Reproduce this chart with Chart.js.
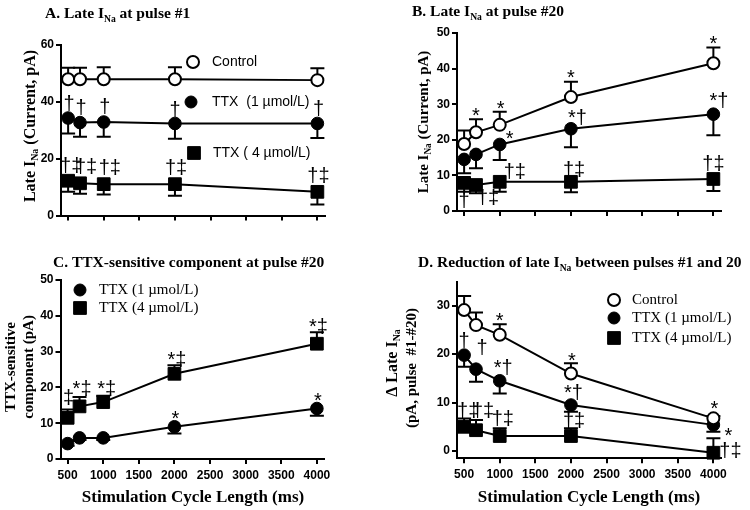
<!DOCTYPE html>
<html>
<head>
<meta charset="utf-8">
<script src="https://cdn.jsdelivr.net/npm/chart.js"></script>
<style>
  html, body { margin: 0; padding: 0; background: #fff; }
  #wrap { position: relative; width: 750px; height: 510px; overflow: hidden; }
  canvas { position: absolute; }
</style>
</head>
<body>
<div id="wrap">
  <canvas id="cA" width="375" height="250" style="left:0;top:0"></canvas>
  <canvas id="cB" width="375" height="250" style="left:375px;top:0"></canvas>
  <canvas id="cC" width="375" height="260" style="left:0;top:250px"></canvas>
  <canvas id="cD" width="375" height="260" style="left:375px;top:250px"></canvas>
</div>
<script>
// stimulation cycle lengths (ms)
var cycleLengths = [500, 667, 1000, 2000, 4000];
var xTicks = [500, 1000, 1500, 2000, 2500, 3000, 3500, 4000];

// A. late INa at pulse #1 (pA), mean and SEM
var aControl = [47.8, 47.8, 47.8, 47.8, 47.5];
var aControlErr = [4, 4, 4.2, 4.2, 4.2];
var aTtx1 = [34.2, 32.6, 32.8, 32.3, 32.3];
var aTtx1Err = [5.4, 5, 5.2, 5.4, 5.1];
var aTtx4 = [12.2, 11.3, 11, 11, 8.3];
var aTtx4Err = [3.9, 3.7, 3.6, 4.1, 4.4];
var aYTicks = [0, 20, 40, 60];

// B. late INa at pulse #20
var bControl = [18.8, 22.1, 24.2, 32.0, 41.5];
var bControlErr = [3.8, 3.7, 3.7, 4.3, 4.4];
var bTtx1 = [14.5, 15.9, 18.7, 23.1, 27.2];
var bTtx1Err = [3.9, 3.9, 4.4, 5.2, 5.9];
var bTtx4 = [7.9, 7.3, 8.2, 8.2, 9.0];
var bTtx4Err = [2.5, 2.3, 2.8, 2.9, 3.4];
var bYTicks = [0, 10, 20, 30, 40, 50];

// C. TTX-sensitive component at pulse #20
var cTtx1 = [4.3, 5.9, 5.9, 9.0, 14.1];
var cTtx1Err = [0.6, 0.6, 0.6, 1.9, 2.0];
var cTtx4 = [11.5, 14.7, 15.9, 23.8, 32.2];
var cTtx4Err = [2.3, 2.6, 1.8, 2.4, 3.2];
var cYTicks = [0, 10, 20, 30, 40, 50];

// D. reduction of late INa between pulses #1 and #20
var dControl = [29.1, 26.0, 24.0, 16.0, 6.75];
var dControlErr = [2.9, 2.6, 2.2, 2.1, 0.5];
var dTtx1 = [19.8, 16.9, 14.5, 9.5, 5.4];
var dTtx1Err = [2.4, 2.6, 2.6, 1.4, 1.4];
var dTtx4 = [5.0, 4.3, 3.1, 3.1, -0.35];
var dTtx4Err = [1.7, 2.1, 1.6, 1.6, 3.0];
var dYTicks = [0, 10, 20, 30];

// significance marks
var aTtx1Notes = ['†', '†', '†', '†', '†'];
var aTtx4Notes = ['†‡', '†‡', '†‡', '†‡', '†‡'];
var bControlNotes = ['', '*', '*', '*', '*'];
var bTtx1Notes = ['', '', '*', '*†', '*†'];
var bTtx4Notes = ['†', '†‡', '†‡', '†‡', '†‡'];
var cTtx1Notes = ['', '', '', '*', '*'];
var cTtx4Notes = ['‡', '*‡', '*‡', '*‡', '*‡'];
var dControlNotes = ['', '', '*', '*', '*'];
var dTtx1Notes = ['†', '†', '*†', '*†', '*'];
var dTtx4Notes = ['†‡', '†‡', '†‡', '†‡', '†‡'];

var SANS = '"Liberation Sans", Arial, sans-serif';
var SERIF = '"Liberation Serif", "Times New Roman", serif';

// where each mark sits relative to its point (px)
var notePos = {
  aTtx1: [[1, -15], [1, -16], [1, -16], [0, -14], [1, -15]],
  aTtx4: [[3, -16], [6, -17], [6, -17], [1, -17], [1, -17]],
  bControl: [null, [0, -20], [1, -20], [0, -23], [0, -23]],
  bTtx1: [null, null, [10, -9], [6, -12], [5, -14]],
  bTtx4: [[0, 17], [12, 12], [15, -11], [3, -13], [0, -16]],
  cTtx1: [null, null, null, [1, -12], [1, -12]],
  cTtx4: [[1, -21], [2, -18], [3, -14], [2, -15], [1, -18]],
  dControl: [null, null, [0, -18], [1, -17], [1, -13]],
  dTtx1: [[0, -15], [6, -22], [3, -14], [2, -13], [15, 7]],
  dTtx4: [[4, -17], [7, -20], [3, -18], [3, -16], [17, -3]]
};

var markerStyle = {
  open: { pointStyle: 'circle', pointRadius: 6, pointBackgroundColor: '#fff', pointBorderWidth: 2 },
  circle: { pointStyle: 'circle', pointRadius: 6.3, pointBackgroundColor: '#000', pointBorderWidth: 1 },
  square: { pointStyle: 'rect', pointRadius: 9, pointBackgroundColor: '#000', pointBorderWidth: 1 }
};

function series(values, errs, dir, marker, notes, pos) {
  var ds = {
    data: cycleLengths.map(function (x, i) { return { x: x, y: values[i] }; }),
    borderColor: '#000',
    borderWidth: 2,
    pointBorderColor: '#000',
    tension: 0,
    fill: false,
    clip: false,
    errors: errs,
    errDir: dir,
    notes: notes || [],
    notePos: pos || []
  };
  Object.assign(ds, markerStyle[marker]);
  return ds;
}

// error bars drawn under the markers
var errorBars = {
  id: 'errorBars',
  beforeDatasetsDraw: function (chart) {
    var ctx = chart.ctx, ys = chart.scales.y;
    ctx.save();
    ctx.strokeStyle = '#000';
    ctx.lineWidth = 2;
    chart.data.datasets.forEach(function (ds, i) {
      if (!ds.errors) return;
      chart.getDatasetMeta(i).data.forEach(function (pt, j) {
        var yEnd = ys.getPixelForValue(ds.data[j].y + ds.errDir * ds.errors[j]);
        ctx.beginPath();
        ctx.moveTo(pt.x, pt.y);
        ctx.lineTo(pt.x, yEnd);
        ctx.moveTo(pt.x - 7, yEnd);
        ctx.lineTo(pt.x + 7, yEnd);
        ctx.stroke();
      });
    });
    ctx.restore();
  }
};

// significance symbols
var noteMarks = {
  id: 'noteMarks',
  afterDatasetsDraw: function (chart) {
    var ctx = chart.ctx;
    ctx.save();
    ctx.fillStyle = '#000';
    ctx.font = '20px ' + SANS;
    ctx.textAlign = 'left';
    ctx.textBaseline = 'alphabetic';
    chart.data.datasets.forEach(function (ds, i) {
      chart.getDatasetMeta(i).data.forEach(function (pt, j) {
        var t = ds.notes[j], p = ds.notePos[j];
        if (!t || !p) return;
        var m = ctx.measureText(t);
        var w = m.actualBoundingBoxRight + m.actualBoundingBoxLeft;
        var cx = pt.x + p[0], cy = pt.y + p[1];
        var bx = cx - w / 2 + m.actualBoundingBoxLeft;
        var by = cy + (m.actualBoundingBoxAscent - m.actualBoundingBoxDescent) / 2;
        ctx.fillText(t, bx, by);
      });
    });
    ctx.restore();
  }
};

function drawRich(ctx, it) {
  var w = it.weight || 'normal', s = it.size, subS = s * 0.62;
  var widths = it.parts.map(function (p) {
    var sub = typeof p !== 'string';
    ctx.font = w + ' ' + (sub ? subS : s) + 'px ' + it.family;
    return ctx.measureText(sub ? p.sub : p).width;
  });
  var total = widths.reduce(function (a, b) { return a + b; }, 0);
  ctx.save();
  ctx.translate(it.x, it.y);
  if (it.rot) ctx.rotate(-Math.PI / 2);
  ctx.fillStyle = '#000';
  ctx.textAlign = 'left';
  ctx.textBaseline = it.base || 'alphabetic';
  var x0 = it.align === 'left' ? 0 : -total / 2;
  it.parts.forEach(function (p, i) {
    var sub = typeof p !== 'string';
    ctx.font = w + ' ' + (sub ? subS : s) + 'px ' + it.family;
    ctx.fillText(sub ? p.sub : p, x0, sub ? s * 0.28 : 0);
    x0 += widths[i];
  });
  ctx.restore();
}

function drawMarker(ctx, kind, x, y) {
  ctx.save();
  ctx.strokeStyle = '#000';
  ctx.fillStyle = kind === 'open' ? '#fff' : '#000';
  ctx.lineWidth = kind === 'open' ? 2 : 1;
  ctx.beginPath();
  if (kind === 'square') {
    var h = markerStyle.square.pointRadius * Math.SQRT1_2;
    ctx.rect(x - h, y - h, 2 * h, 2 * h);
  } else {
    ctx.arc(x, y, 6, 0, Math.PI * 2);
  }
  ctx.fill();
  ctx.stroke();
  ctx.restore();
}

// titles, axis titles and legends
var panelText = {
  id: 'panelText',
  afterDraw: function (chart, args, opts) {
    var ctx = chart.ctx;
    (opts.texts || []).forEach(function (it) { drawRich(ctx, it); });
    (opts.legend || []).forEach(function (it) {
      drawMarker(ctx, it.marker, it.mx, it.my);
      drawRich(ctx, { x: it.tx, y: it.my, size: it.size, family: it.family, align: 'left', base: 'middle', parts: [it.text] });
    });
  }
};

function makePanel(id, geo, yMin, yMax, yTicks, showX, datasets, texts, legend) {
  var tickFont = { family: SANS, weight: 'bold', size: 12 };
  return new Chart(document.getElementById(id), {
    type: 'line',
    data: { datasets: datasets },
    plugins: [errorBars, noteMarks, panelText],
    options: {
      responsive: false,
      animation: false,
      layout: { padding: { top: geo.t, right: geo.w - geo.r, left: 0, bottom: 0 } },
      plugins: {
        legend: { display: false },
        tooltip: { enabled: false },
        panelText: { texts: texts, legend: legend }
      },
      scales: {
        x: {
          type: 'linear', min: 400, max: 4100,
          afterBuildTicks: function (s) { s.ticks = xTicks.map(function (v) { return { value: v }; }); },
          afterFit: function (s) { s.height = geo.h - geo.b; },
          ticks: {
            display: showX, color: '#000', font: tickFont, padding: 4, maxRotation: 0, autoSkip: false,
            callback: function (v) { return String(v); }
          },
          grid: { drawOnChartArea: false, color: '#000', lineWidth: 2, tickLength: 5 },
          border: { color: '#000', width: 2 }
        },
        y: {
          min: yMin, max: yMax,
          afterBuildTicks: function (s) { s.ticks = yTicks.map(function (v) { return { value: v }; }); },
          afterFit: function (s) { s.width = geo.l; },
          ticks: { color: '#000', font: tickFont, padding: 2, callback: function (v) { return String(v); } },
          grid: { drawOnChartArea: false, color: '#000', lineWidth: 2, tickLength: 5 },
          border: { color: '#000', width: 2 }
        }
      }
    }
  });
}

makePanel('cA', { w: 375, h: 250, l: 61, r: 324.5, t: 44.5, b: 215.5 }, 0, 60, aYTicks, false, [
  series(aControl, aControlErr, 1, 'open'),
  series(aTtx1, aTtx1Err, -1, 'circle', aTtx1Notes, notePos.aTtx1),
  series(aTtx4, aTtx4Err, -1, 'square', aTtx4Notes, notePos.aTtx4)
], [
  { x: 45, y: 18, size: 15.5, weight: 'bold', family: SERIF, align: 'left', parts: ['A. Late I', { sub: 'Na' }, ' at pulse #1'] },
  { x: 31, y: 126, size: 16, weight: 'bold', family: SERIF, rot: true, base: 'middle', parts: ['Late I', { sub: 'Na' }, ' (Current, pA)'] }
], [
  { marker: 'open', mx: 193, my: 62, tx: 212, text: 'Control', size: 14, family: SANS },
  { marker: 'circle', mx: 191, my: 102, tx: 212, text: 'TTX  (1 µmol/L)', size: 14, family: SANS },
  { marker: 'square', mx: 194, my: 153, tx: 213, text: 'TTX ( 4 µmol/L)', size: 14, family: SANS }
]);

makePanel('cB', { w: 375, h: 250, l: 82, r: 345.5, t: 33, b: 211 }, 0, 50, bYTicks, false, [
  series(bControl, bControlErr, 1, 'open', bControlNotes, notePos.bControl),
  series(bTtx1, bTtx1Err, -1, 'circle', bTtx1Notes, notePos.bTtx1),
  series(bTtx4, bTtx4Err, -1, 'square', bTtx4Notes, notePos.bTtx4)
], [
  { x: 37, y: 16, size: 15.5, weight: 'bold', family: SERIF, align: 'left', parts: ['B. Late I', { sub: 'Na' }, ' at pulse #20'] },
  { x: 49, y: 122, size: 15, weight: 'bold', family: SERIF, rot: true, base: 'middle', parts: ['Late I', { sub: 'Na' }, ' (Current, pA)'] }
], []);

makePanel('cC', { w: 375, h: 260, l: 60.5, r: 324, t: 30, b: 209 }, 0, 50, cYTicks, true, [
  series(cTtx1, cTtx1Err, -1, 'circle', cTtx1Notes, notePos.cTtx1),
  series(cTtx4, cTtx4Err, 1, 'square', cTtx4Notes, notePos.cTtx4)
], [
  { x: 53, y: 16.5, size: 15.5, weight: 'bold', family: SERIF, align: 'left', parts: ['C. TTX-sensitive component at pulse #20'] },
  { x: 11, y: 117, size: 15, weight: 'bold', family: SERIF, rot: true, base: 'middle', parts: ['TTX-sensitive'] },
  { x: 29, y: 117, size: 15, weight: 'bold', family: SERIF, rot: true, base: 'middle', parts: ['component (pA)'] },
  { x: 193, y: 252, size: 17, weight: 'bold', family: SERIF, parts: ['Stimulation Cycle Length (ms)'] }
], [
  { marker: 'circle', mx: 80, my: 40, tx: 99, text: 'TTX (1 µmol/L)', size: 15, family: SERIF },
  { marker: 'square', mx: 80, my: 58, tx: 99, text: 'TTX (4 µmol/L)', size: 15, family: SERIF }
]);

makePanel('cD', { w: 375, h: 260, l: 82, r: 345.5, t: 31.5, b: 208.3 }, -1.5, 35, dYTicks, true, [
  series(dControl, dControlErr, 1, 'open', dControlNotes, notePos.dControl),
  series(dTtx1, dTtx1Err, -1, 'circle', dTtx1Notes, notePos.dTtx1),
  series(dTtx4, dTtx4Err, 1, 'square', dTtx4Notes, notePos.dTtx4)
], [
  { x: 43, y: 17, size: 15.5, weight: 'bold', family: SERIF, align: 'left', parts: ['D. Reduction of late I', { sub: 'Na' }, ' between pulses #1 and 20'] },
  { x: 18, y: 113, size: 16, weight: 'bold', family: SERIF, rot: true, base: 'middle', parts: ['Δ Late I', { sub: 'Na' }] },
  { x: 37, y: 118, size: 15, weight: 'bold', family: SERIF, rot: true, base: 'middle', parts: ['(pA, pulse  #1-#20)'] },
  { x: 214, y: 252, size: 17, weight: 'bold', family: SERIF, parts: ['Stimulation Cycle Length (ms)'] }
], [
  { marker: 'open', mx: 239, my: 50, tx: 257, text: 'Control', size: 15, family: SERIF },
  { marker: 'circle', mx: 239, my: 68, tx: 257, text: 'TTX (1 µmol/L)', size: 15, family: SERIF },
  { marker: 'square', mx: 239, my: 88, tx: 257, text: 'TTX (4 µmol/L)', size: 15, family: SERIF }
]);
</script>
</body>
</html>
